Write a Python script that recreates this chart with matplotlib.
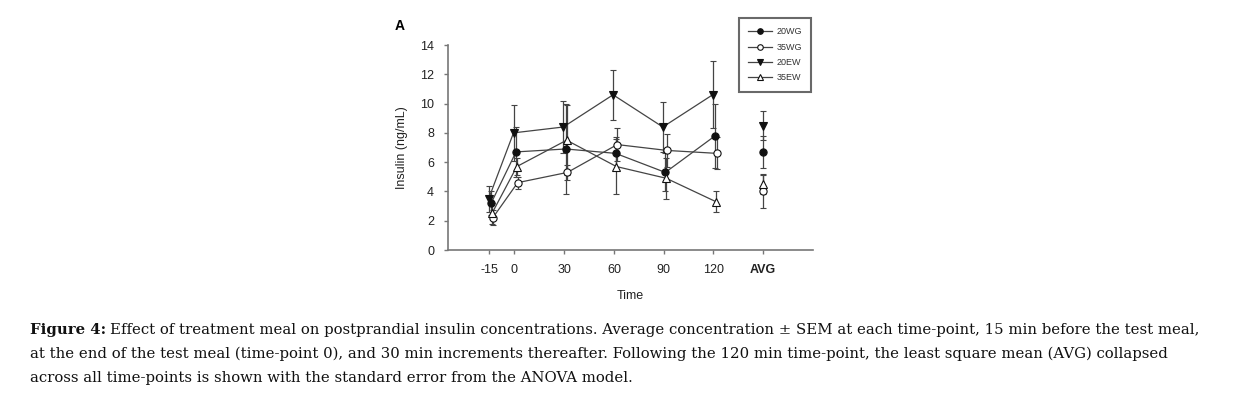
import matplotlib
matplotlib.use("Agg")
import matplotlib.pyplot as plt
from matplotlib.lines import Line2D
import numpy as np

# time points (AVG is drawn at 150)
times = [-15, 0, 30, 60, 90, 120]
avg_pos = 150
tick_labels = ["-15", "0", "30", "60", "90", "120"]

# group means and SEM
wg20 = [3.2, 6.7, 6.9, 6.6, 5.3, 7.8]
wg20_err = [0.8, 1.7, 3.1, 1.1, 1.3, 2.2]
wg20_avg, wg20_avg_err = 6.7, 1.1

wg35 = [2.2, 4.6, 5.3, 7.2, 6.8, 6.6]
wg35_err = [0.5, 0.4, 0.5, 1.1, 1.1, 1.1]
wg35_avg, wg35_avg_err = 4.0, 1.1

ew20 = [3.5, 8.0, 8.4, 10.6, 8.4, 10.6]
ew20_err = [0.9, 1.9, 1.8, 1.7, 1.7, 2.3]
ew20_avg, ew20_avg_err = 8.5, 1.0

ew35 = [2.5, 5.7, 7.5, 5.7, 4.9, 3.3]
ew35_err = [0.7, 0.6, 2.4, 1.9, 1.4, 0.7]
ew35_avg, ew35_avg_err = 4.5, 0.7

series = [
    ("20WG", wg20, wg20_err, wg20_avg, wg20_avg_err, "o", "#111111", 1.0),
    ("35WG", wg35, wg35_err, wg35_avg, wg35_avg_err, "o", "white", 2.0),
    ("20EW", ew20, ew20_err, ew20_avg, ew20_avg_err, "v", "#111111", -0.5),
    ("35EW", ew35, ew35_err, ew35_avg, ew35_avg_err, "^", "white", 1.5),
]

plt.rcParams["font.family"] = ["Liberation Sans", "DejaVu Sans"]

fig = plt.figure(figsize=(12.42, 3.99), dpi=100)
ax = fig.add_axes([0.3607, 0.3734, 0.2939, 0.5138])

line_col = "#444444"
handles = []
for name, vals, errs, avg, avg_err, mk, fc, dx in series:
    x = np.array(times) + dx
    ax.errorbar(x, vals, yerr=errs, color=line_col, lw=0.9, elinewidth=0.9,
                capsize=2.5, capthick=0.9, marker=mk, ms=5.2, mfc=fc,
                mec="#111111", mew=0.8, zorder=3)
    ax.errorbar([avg_pos], [avg], yerr=[avg_err], color=line_col, lw=0,
                elinewidth=0.9, capsize=2.5, capthick=0.9, marker=mk, ms=5.2,
                mfc=fc, mec="#111111", mew=0.8, zorder=3)
    handles.append(Line2D([0], [0], color=line_col, lw=0.9, marker=mk, ms=4,
                          mfc=fc, mec="#111111", mew=0.8, label=name))

ax.set_xlim(-40, 180)
ax.set_ylim(0, 14)
ax.set_yticks(np.arange(0, 15, 2))
ax.set_xticks(times + [avg_pos])
ax.set_xticklabels(tick_labels + ["AVG"])
ax.get_xticklabels()[-1].set_fontweight("bold")
ax.get_xticklabels()[-1].set_fontsize(10)

for s in ["top", "right"]:
    ax.spines[s].set_visible(False)
for s in ["left", "bottom"]:
    ax.spines[s].set_color("#777777")
    ax.spines[s].set_linewidth(1.2)
ax.tick_params(direction="out", length=3, width=1, color="#777777",
               labelsize=9, labelcolor="#222222", pad=7)
ax.set_ylabel("Insulin (ng/mL)", fontsize=9, color="#222222", labelpad=9)
ax.set_xlabel("Time", fontsize=9, color="#222222", labelpad=10)

leg = fig.legend(handles=handles, loc="upper left",
                 bbox_to_anchor=(739 / 1242, 1 - 18 / 399),
                 frameon=True, fancybox=False, fontsize=6.5, handlelength=2.6,
                 borderpad=1.05, labelspacing=0.7, handletextpad=0.5,
                 borderaxespad=0)
leg.get_frame().set_edgecolor("#444444")
leg.get_frame().set_linewidth(1.5)
for t in leg.get_texts():
    t.set_color("#333333")

fig.text(400 / 1242, 1 - 26 / 399, "A", fontsize=10, fontweight="bold",
         va="center", ha="center")

# caption
cap_lines = [
    "Effect of treatment meal on postprandial insulin concentrations. Average concentration \u00b1 SEM at each time-point, 15 min before the test meal,",
    "at the end of the test meal (time-point 0), and 30 min increments thereafter. Following the 120 min time-point, the least square mean (AVG) collapsed",
    "across all time-points is shown with the standard error from the ANOVA model.",
]
serif = ["DejaVu Serif"]
cap_fs = 10.7
x0 = 30 / 1242
ys = [330, 354, 378]
renderer = fig.canvas.get_renderer()
b = fig.text(x0, 1 - ys[0] / 399, "Figure 4:", fontsize=cap_fs,
             fontweight="bold", family=serif, va="center", color="#111111")
bb = b.get_window_extent(renderer=renderer)
fig.text(bb.x1 / fig.bbox.width + 4 / 1242, 1 - ys[0] / 399, cap_lines[0],
         fontsize=cap_fs, family=serif, va="center", color="#111111")
for line, y in zip(cap_lines[1:], ys[1:]):
    fig.text(x0, 1 - y / 399, line, fontsize=cap_fs, family=serif,
             va="center", color="#111111")

fig.savefig("out.png", dpi=100)
